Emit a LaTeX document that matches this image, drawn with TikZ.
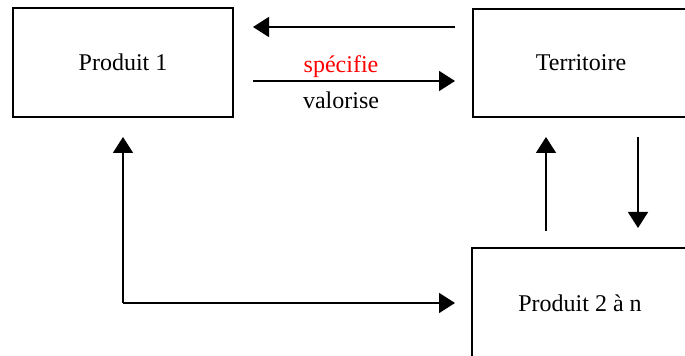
\documentclass[tikz,border=0pt]{standalone}
\usepackage{fontspec}
\setmainfont{Liberation Serif}
\usetikzlibrary{arrows.meta}

\tikzset{
	boite/.style={draw, line width=0.8pt, minimum width=108pt, minimum height=54pt, inner sep=0pt},
	fleche/.style={line width=0.85pt, -{Triangle[length=8pt,width=10pt]}},
}

\begin{document}
\begin{tikzpicture}[x=0.5pt,y=-0.5pt,font=\fontsize{12pt}{14pt}\selectfont]
	\useasboundingbox (0,0) rectangle (685,356);

	\node [boite, minimum width=110pt, minimum height=54.5pt] (prod1) at (123,62.5) {Produit 1};
	\node [boite] (terr) at (581,63) {Territoire};
	\node [boite, minimum height=55pt] (prodn) at (580,303) {Produit 2 à n};

	\coordinate (hautD) at (455,27);
	\coordinate (hautG) at (253,27);
	\coordinate (basG) at (253,81);
	\coordinate (basD) at (455,81);
	\coordinate (gHaut) at (123,137);
	\coordinate (gCoin) at (123,303);
	\coordinate (gFin) at (455,303);
	\coordinate (mBas) at (546,231);
	\coordinate (mHaut) at (546,137);
	\coordinate (dHaut) at (638,137);
	\coordinate (dBas) at (638,228);

	\draw [fleche] (hautD) -- (hautG);
	\draw [fleche] (basG) -- (basD);
	\draw [fleche] (gCoin) -- (gHaut);
	\draw [fleche] (gCoin) -- (gFin);
	\draw [fleche] (mBas) -- (mHaut);
	\draw [fleche] (dHaut) -- (dBas);

	\node [text=red, anchor=base] (spec) at (341,73) {spécifie};
	\node [anchor=base] (valo) at (341,109) {valorise};
\end{tikzpicture}
\end{document}
